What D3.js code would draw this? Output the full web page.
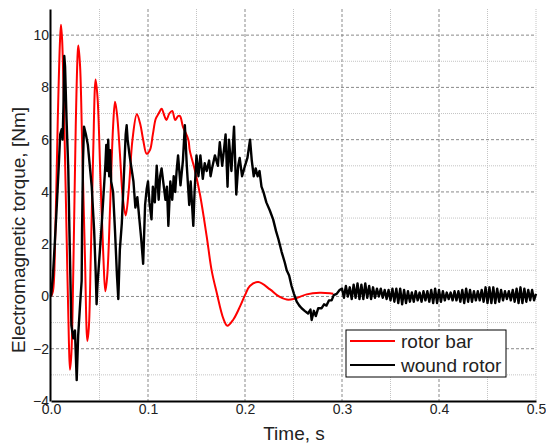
<!DOCTYPE html>
<html>
<head>
<meta charset="utf-8">
<script src="https://cdn.jsdelivr.net/npm/d3@7"></script>
<style>
  body { margin: 0; background: #fff; }
  text { font-family: "Liberation Sans", Arial, sans-serif; fill: #222; }
</style>
</head>
<body>
<div id="chart"></div>
<script>
const width = 546;
const height = 445;

const margin = { top: 9, right: 10, bottom: 44, left: 51 };

// rotor bar: [time s, torque Nm]
const rotorBar = [
  [0, 0], [0.002, 0.2], [0.0045, 2.5], [0.007, 6.8], [0.0093, 9.8], [0.0103, 10.4],
  [0.0115, 9.8], [0.0135, 7], [0.016, 2.5], [0.0185, -1.8], [0.0196, -2.8], [0.021, -2.2],
  [0.023, 1], [0.0255, 6.5], [0.0275, 9.3], [0.0282, 9.6], [0.030, 8.8], [0.032, 6],
  [0.035, 1.5], [0.0375, -1.7], [0.039, -1.2], [0.041, 1.5], [0.0435, 5.5], [0.046, 8.3],
  [0.048, 7.6], [0.051, 4.5], [0.054, 1.5], [0.056, 0.2], [0.058, 0.8], [0.061, 3.5],
  [0.064, 6.5], [0.066, 7.45], [0.068, 7], [0.071, 5.5], [0.074, 3.8], [0.077, 3.1],
  [0.080, 4.0], [0.084, 6.0], [0.0885, 6.97], [0.092, 6.6], [0.095, 6.0], [0.0986, 5.46],
  [0.102, 5.6], [0.105, 6.2], [0.108, 6.8], [0.111, 7.0], [0.114, 7.18], [0.117, 6.9],
  [0.119, 6.75], [0.122, 7.0], [0.125, 7.1], [0.128, 6.75], [0.131, 6.9], [0.133, 6.9],
  [0.136, 6.5], [0.1416, 6.0], [0.143, 5.6], [0.1485, 4.8], [0.1536, 3.9], [0.1605, 2.3],
  [0.1656, 1.0], [0.1708, 0.15], [0.1777, -0.85], [0.1818, -1.12], [0.188, -0.88],
  [0.195, -0.37], [0.200, 0.05], [0.205, 0.4], [0.2137, 0.55], [0.2258, 0.27], [0.235, 0.0],
  [0.243, -0.12], [0.25, -0.1], [0.2636, 0.08], [0.277, 0.14], [0.2876, 0.12], [0.291, 0.1]
];

// wound rotor: [time s, torque Nm]
const woundRotor = [
  [0, 0], [0.002, 0.8], [0.004, 2.1], [0.006, 3.5], [0.008, 5.0], [0.0095, 6.2], [0.011, 6.4],
  [0.012, 6.0], [0.013, 7.5], [0.0137, 9.2], [0.0145, 8.8], [0.016, 6.8], [0.0178, 4.9],
  [0.019, 2.5], [0.021, -1.1], [0.023, -1.6], [0.0247, -1.3], [0.0265, -3.2], [0.028, -1.5],
  [0.030, -0.3], [0.0316, 0.6], [0.032, 2.5], [0.033, 5.2], [0.034, 6.5], [0.036, 6.2],
  [0.038, 5.8], [0.040, 5.0], [0.042, 4.2], [0.0445, 2.5], [0.046, 1.0], [0.047, -0.3],
  [0.048, 0.5], [0.0505, 1.8], [0.052, 2.6], [0.054, 3.8], [0.056, 5.0], [0.057, 5.8],
  [0.058, 4.8], [0.059, 6.0], [0.060, 4.6], [0.061, 5.6], [0.062, 4.4], [0.064, 4.0],
  [0.066, 2.5], [0.068, 0.8], [0.0694, -0.1], [0.071, 1.8], [0.073, 2.8], [0.075, 4.5],
  [0.077, 6.2], [0.078, 6.55], [0.079, 6.0], [0.081, 5.4], [0.083, 4.9], [0.085, 4.4],
  [0.087, 3.4], [0.089, 3.8], [0.091, 3.0], [0.093, 2.2], [0.095, 1.25], [0.097, 3.5],
  [0.0986, 4.1], [0.100, 4.4], [0.1015, 3.6], [0.1036, 2.95], [0.105, 4.2], [0.107, 3.6],
  [0.109, 5.0], [0.111, 3.7], [0.1125, 4.6], [0.114, 4.9], [0.116, 4.3], [0.118, 3.7],
  [0.1195, 4.2], [0.121, 2.7], [0.123, 4.4], [0.125, 3.7], [0.1265, 4.6], [0.128, 4.0],
  [0.1295, 4.8], [0.131, 5.4], [0.1335, 4.25], [0.136, 5.2], [0.138, 6.55], [0.140, 5.0],
  [0.1425, 3.5], [0.144, 4.4], [0.1467, 2.7], [0.148, 4.0], [0.150, 5.4], [0.152, 4.6],
  [0.154, 5.4], [0.1565, 4.5], [0.1585, 5.1], [0.1605, 4.8], [0.163, 5.2], [0.1645, 4.6],
  [0.166, 4.9], [0.169, 5.4], [0.172, 5.0], [0.174, 5.9], [0.1765, 5.0], [0.178, 5.5],
  [0.180, 6.2], [0.182, 4.2], [0.1835, 6.0], [0.186, 4.8], [0.1887, 6.5], [0.191, 3.9],
  [0.193, 5.0], [0.1945, 5.3], [0.197, 4.6], [0.200, 5.0], [0.2025, 5.3], [0.2052, 6.0],
  [0.207, 5.2], [0.209, 4.6], [0.211, 4.9], [0.213, 4.6], [0.215, 4.8], [0.217, 4.2],
  [0.219, 4.0], [0.222, 3.6], [0.2255, 3.3], [0.229, 2.95], [0.232, 2.5], [0.2344, 2.2],
  [0.2378, 1.7], [0.241, 1.3], [0.243, 1.0], [0.2455, 0.8], [0.248, 0.4], [0.2505, 0.1],
  [0.2533, -0.2], [0.256, -0.35], [0.2584, -0.45], [0.2615, -0.55], [0.265, -0.65],
  [0.2675, -0.5], [0.2687, -0.9], [0.271, -0.55], [0.273, -0.75], [0.2755, -0.45],
  [0.279, -0.45], [0.2815, -0.3], [0.284, -0.35], [0.2865, -0.15], [0.2893, -0.15],
  [0.2915, 0.05], [0.2945, 0.1], [0.2975, 0.25],
  [0.300, 0.3], [0.302, -0.05], [0.304, 0.4], [0.306, 0.0], [0.308, 0.35], [0.310, -0.1],
  [0.312, 0.45], [0.314, -0.05], [0.316, 0.5], [0.318, -0.1], [0.320, 0.45], [0.322, -0.1],
  [0.324, 0.5], [0.326, -0.05], [0.328, 0.4], [0.330, -0.1], [0.332, 0.35], [0.334, -0.05],
  [0.336, 0.3], [0.338, 0.0], [0.340, 0.3], [0.342, -0.05], [0.344, 0.25], [0.346, -0.1],
  [0.348, 0.25], [0.350, -0.15], [0.352, 0.3], [0.354, -0.2], [0.356, 0.3], [0.358, -0.25],
  [0.360, 0.3], [0.362, -0.3], [0.364, 0.25], [0.366, -0.25], [0.368, 0.2], [0.370, -0.2],
  [0.372, 0.15], [0.374, -0.2], [0.376, 0.2], [0.378, -0.15], [0.380, 0.15], [0.382, -0.2],
  [0.384, 0.2], [0.386, -0.15], [0.388, 0.2], [0.390, -0.2], [0.392, 0.25], [0.394, -0.25],
  [0.396, 0.3], [0.398, -0.25], [0.400, 0.25], [0.402, -0.2], [0.404, 0.2], [0.406, -0.15],
  [0.408, 0.15], [0.410, -0.1], [0.412, 0.15], [0.414, -0.15], [0.416, 0.2], [0.418, -0.15],
  [0.420, 0.2], [0.422, -0.2], [0.424, 0.25], [0.426, -0.25], [0.428, 0.3], [0.430, -0.2],
  [0.432, 0.25], [0.434, -0.2], [0.436, 0.2], [0.438, -0.15], [0.440, 0.2], [0.442, -0.15],
  [0.444, 0.25], [0.446, -0.2], [0.448, 0.35], [0.450, -0.25], [0.452, 0.35], [0.454, -0.25],
  [0.456, 0.35], [0.458, -0.25], [0.460, 0.3], [0.462, -0.2], [0.464, 0.25], [0.466, -0.15],
  [0.468, 0.2], [0.470, -0.1], [0.472, 0.2], [0.474, -0.15], [0.476, 0.25], [0.478, -0.2],
  [0.480, 0.3], [0.482, -0.25], [0.484, 0.35], [0.486, -0.25], [0.488, 0.3], [0.490, -0.2],
  [0.492, 0.25], [0.494, -0.15], [0.496, 0.25], [0.498, -0.15], [0.500, 0.1]
];

const xTicks = [0, 0.1, 0.2, 0.3, 0.4, 0.5];
const xMinorGrid = [0.05, 0.15, 0.25, 0.35, 0.45];
const yTicks = [-4, -2, 0, 2, 4, 6, 8, 10];
const yMinorGrid = [-3, -1, 1, 3, 5, 7, 9];

const seriesNames = ["rotor bar", "wound rotor"];
const seriesColors = ["#ff0000", "#000000"];

const svg = d3.select("#chart")
  .append("svg")
  .attr("width", width)
  .attr("height", height);

const x = d3.scaleLinear()
  .domain([0, 0.5])
  .range([margin.left, width - margin.right]);

const y = d3.scaleLinear()
  .domain([-4, 11])
  .range([height - margin.bottom, margin.top]);

// grid
const grid = svg.append("g");

grid.selectAll(".vmin")
  .data(xMinorGrid.concat([0.5]))
  .enter()
  .append("line")
  .attr("x1", d => x(d)).attr("x2", d => x(d))
  .attr("y1", y(11)).attr("y2", y(-4))
  .attr("stroke", "#c4c4c4")
  .attr("stroke-dasharray", "1,1");

grid.selectAll(".hmin")
  .data(yMinorGrid)
  .enter()
  .append("line")
  .attr("x1", x(0)).attr("x2", x(0.5))
  .attr("y1", d => y(d)).attr("y2", d => y(d))
  .attr("stroke", "#c4c4c4")
  .attr("stroke-dasharray", "1,1");

grid.selectAll(".vmaj")
  .data(xTicks.slice(1, 5))
  .enter()
  .append("line")
  .attr("x1", d => x(d)).attr("x2", d => x(d))
  .attr("y1", y(11)).attr("y2", y(-4))
  .attr("stroke", "#8a8a8a")
  .attr("stroke-dasharray", "3,2");

grid.selectAll(".hmaj")
  .data(yTicks.slice(1))
  .enter()
  .append("line")
  .attr("x1", x(0)).attr("x2", x(0.5))
  .attr("y1", d => y(d)).attr("y2", d => y(d))
  .attr("stroke", "#8a8a8a")
  .attr("stroke-dasharray", "3,2");

// curves
svg.append("path")
  .datum(rotorBar)
  .attr("fill", "none")
  .attr("stroke", seriesColors[0])
  .attr("stroke-width", 2)
  .attr("d", d3.line()
    .x(d => x(d[0]))
    .y(d => y(d[1]))
    .curve(d3.curveCatmullRom));

svg.append("path")
  .datum(woundRotor)
  .attr("fill", "none")
  .attr("stroke", seriesColors[1])
  .attr("stroke-width", 2.4)
  .attr("stroke-linejoin", "round")
  .attr("d", d3.line()
    .x(d => x(d[0]))
    .y(d => y(d[1])));

// axes
const xAxis = svg.append("g")
  .attr("transform", "translate(0," + (height - margin.bottom) + ")")
  .call(d3.axisBottom(x)
    .tickValues(xTicks)
    .tickFormat(d3.format(".1f"))
    .tickSize(0)
    .tickPadding(3));

const yAxis = svg.append("g")
  .attr("transform", "translate(" + (margin.left - 1) + ",0)")
  .call(d3.axisLeft(y)
    .tickValues(yTicks)
    .tickSize(0)
    .tickPadding(1));

[xAxis, yAxis].forEach(function(a) {
  a.select(".domain").attr("stroke", "#000").attr("stroke-width", 2);
  a.selectAll("text")
    .attr("font-size", "14px")
    .attr("font-family", "'Liberation Sans', Arial, sans-serif")
    .attr("fill", "#222");
});

svg.append("text")
  .attr("x", 294)
  .attr("y", 440)
  .attr("text-anchor", "middle")
  .attr("font-size", "19px")
  .text("Time, s");

svg.append("text")
  .attr("transform", "translate(25,230) rotate(-90)")
  .attr("text-anchor", "middle")
  .attr("font-size", "19px")
  .text("Electromagnetic torque, [Nm]");

// legend
const legend = svg.append("g").attr("transform", "translate(346,330)");

legend.append("rect")
  .attr("width", 160)
  .attr("height", 47)
  .attr("fill", "#fff")
  .attr("stroke", "#000")
  .attr("stroke-width", 1);

seriesNames.forEach(function(name, i) {
  legend.append("line")
    .attr("x1", 4).attr("x2", 49)
    .attr("y1", 11 + i * 24).attr("y2", 11 + i * 24)
    .attr("stroke", seriesColors[i])
    .attr("stroke-width", 2);
  legend.append("text")
    .attr("x", 55)
    .attr("y", 18 + i * 24)
    .attr("font-size", "19px")
    .text(name);
});
</script>
</body>
</html>
